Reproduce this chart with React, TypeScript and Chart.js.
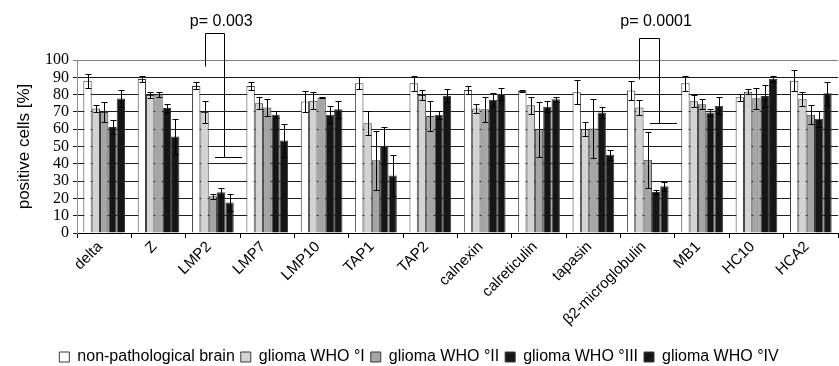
import { useEffect, useRef } from 'react';
import { Chart, registerables } from 'chart.js';

Chart.register(...registerables);

// Antigen-processing components along the x axis
const categories = [
  'delta', 'Z', 'LMP2', 'LMP7', 'LMP10', 'TAP1', 'TAP2', 'calnexin',
  'calreticulin', 'tapasin', 'β2-microglobulin', 'MB1', 'HC10', 'HCA2',
];

const seriesNames = [
  'non-pathological brain',
  'glioma WHO °I',
  'glioma WHO °II',
  'glioma WHO °III',
  'glioma WHO °IV',
];

// Mean percentage of positive cells and the error (±) per group
const nonPathological = [88, 89, 85, 85, 76, 86.5, 86.5, 82.7, 82.1, 81.3, 82.3, 86.5, 78.5, 88];
const nonPathologicalErr = [4, 2, 2, 2.5, 6, 3.5, 4.5, 2.3, 0.5, 7, 5.7, 4.5, 2, 6];

const gradeI = [72, 79.8, 70, 75, 76.5, 63.5, 79.8, 72, 73.8, 60, 72.5, 76.2, 81.7, 77.3];
const gradeIErr = [2, 1.5, 6.5, 3.5, 5, 7, 3, 2.6, 5, 4, 4.5, 3.6, 1.3, 4];

const gradeII = [70, 80, 21.2, 72.5, 78.3, 42, 67.7, 71.5, 60, 60.4, 42.3, 74.4, 77.9, 68.3];
const gradeIIErr = [6, 1.5, 1.5, 5, 0.5, 17, 8.6, 7.3, 16, 17, 16, 3, 6, 5.4];

const gradeIII = [61.3, 72.3, 23.5, 68.3, 68.3, 50.4, 68.3, 77, 73, 69.6, 23.7, 69.6, 79.2, 66];
const gradeIIIErr = [4, 2.5, 2.5, 2, 5, 10.6, 2.5, 4, 3.3, 3, 1.3, 2, 6.4, 4.8];

const gradeIV = [77.7, 55.8, 17.7, 53.5, 71.5, 33.3, 79.4, 80.4, 77.3, 45.2, 27, 73.5, 89, 80.8];
const gradeIVErr = [5, 10, 5, 9.5, 5, 12, 3.6, 3.3, 1.5, 3, 2.5, 5, 2, 6.7];

const seriesValues = [nonPathological, gradeI, gradeII, gradeIII, gradeIV];
const seriesErrors = [nonPathologicalErr, gradeIErr, gradeIIErr, gradeIIIErr, gradeIVErr];
const seriesFills = ['#ffffff', '#d3d3d3', '#a5a5a5', '#161616', '#161616'];

const yTickValues = [0, 10, 20, 30, 40, 50, 60, 70, 80, 90, 100];

// Significance brackets: grade I vs. higher grades (heights in % units)
const pLabels = ['p= 0.003', 'p= 0.0001'];
const pCategoryIndex = [2, 10];
const pBracketTop = [115.8, 112.9];
const pLeftLegEnd = [96.5, 88.8];
const pRightLegEnd = [44.1, 63.4];
const pTextLevel = [122.3, 122.3];

const SANS = "'Liberation Sans', Arial, sans-serif";
const SERIF = "'Liberation Serif', 'Times New Roman', serif";

const errorBarPlugin = {
  id: 'errorBars',
  afterDatasetsDraw(chart: any) {
    const { ctx } = chart;
    const y = chart.scales.y;
    ctx.save();
    ctx.strokeStyle = '#000';
    ctx.lineWidth = 1;
    chart.data.datasets.forEach((ds: any, di: number) => {
      const meta = chart.getDatasetMeta(di);
      meta.data.forEach((bar: any, i: number) => {
        const v = ds.data[i];
        const e = ds.errors[i];
        const x = Math.round(bar.x) + 0.5;
        const yHi = Math.round(y.getPixelForValue(v + e)) + 0.5;
        const yLo = Math.round(y.getPixelForValue(v - e)) + 0.5;
        ctx.beginPath();
        ctx.moveTo(x, yHi);
        ctx.lineTo(x, yLo);
        ctx.moveTo(x - 3, yHi);
        ctx.lineTo(x + 3, yHi);
        ctx.moveTo(x - 3, yLo);
        ctx.lineTo(x + 3, yLo);
        ctx.stroke();
      });
    });
    ctx.restore();
  },
};

const bracketPlugin = {
  id: 'pBrackets',
  afterDraw(chart: any) {
    const { ctx } = chart;
    const y = chart.scales.y;
    ctx.save();
    ctx.strokeStyle = '#000';
    ctx.lineWidth = 1;
    ctx.fillStyle = '#000';
    ctx.font = `16px ${SANS}`;
    ctx.textAlign = 'center';
    ctx.textBaseline = 'middle';
    pLabels.forEach((label, k) => {
      const idx = pCategoryIndex[k];
      const leftBar: any = chart.getDatasetMeta(1).data[idx];
      const refBar: any = chart.getDatasetMeta(3).data[idx];
      const w = refBar.width;
      const xl = Math.round(leftBar.x) + 0.5;
      const xr = Math.round(refBar.x + 0.3 * w) + 0.5;
      const yTop = Math.round(y.getPixelForValue(pBracketTop[k])) + 0.5;
      const yLeft = Math.round(y.getPixelForValue(pLeftLegEnd[k])) + 0.5;
      const yRight = Math.round(y.getPixelForValue(pRightLegEnd[k])) + 0.5;
      ctx.beginPath();
      ctx.moveTo(xl, yLeft);
      ctx.lineTo(xl, yTop);
      ctx.lineTo(xr, yTop);
      ctx.lineTo(xr, yRight);
      ctx.moveTo(Math.round(refBar.x - 0.7 * w), yRight);
      ctx.lineTo(Math.round(refBar.x + 2.5 * w), yRight);
      ctx.stroke();
      ctx.fillText(label, refBar.x, y.getPixelForValue(pTextLevel[k]));
    });
    ctx.restore();
  },
};

export default function App() {
  const canvasRef = useRef<HTMLCanvasElement | null>(null);

  useEffect(() => {
    document.body.style.margin = '0';
    const canvas = canvasRef.current;
    if (!canvas) return;

    Chart.defaults.color = '#000';
    Chart.defaults.font.family = SANS;

    const chart = new Chart(canvas, {
      type: 'bar',
      data: {
        labels: categories,
        datasets: seriesNames.map((name, i) => ({
          label: name,
          data: seriesValues[i],
          errors: seriesErrors[i],
          backgroundColor: seriesFills[i],
          borderColor: '#3a3a3a',
          borderWidth: 1,
          categoryPercentage: 0.767,
          barPercentage: 1,
        })) as any,
      },
      options: {
        responsive: false,
        animation: false,
        layout: { padding: { top: 60, right: 1, left: 0, bottom: -9 } },
        plugins: {
          tooltip: { enabled: false },
          legend: {
            position: 'bottom',
            labels: {
              boxWidth: 10,
              boxHeight: 10,
              padding: 6,
              color: '#000',
              font: { size: 16, family: SANS },
            },
          },
        },
        scales: {
          x: {
            offset: true,
            grid: {
              display: true,
              drawOnChartArea: false,
              drawTicks: true,
              tickLength: 5,
              color: '#000',
              offset: true,
            },
            border: { display: true, color: '#000', width: 1 },
            ticks: {
              autoSkip: false,
              maxRotation: 45,
              minRotation: 45,
              padding: 0,
              labelOffset: -4,
              color: '#000',
              font: { size: 15, family: SANS },
            },
            afterFit(scale: any) {
              scale.height = 110;
            },
          },
          y: {
            min: 0,
            max: 100,
            afterBuildTicks(scale: any) {
              scale.ticks = yTickValues.map((v) => ({ value: v }));
            },
            grid: {
              color: (ctx: any) => (ctx.tick && ctx.tick.value === 100 ? '#808080' : '#1e1e1e'),
              lineWidth: 1,
              tickLength: 4,
            },
            border: { display: true, color: '#8a8a8a', width: 1 },
            ticks: {
              autoSkip: false,
              padding: 4,
              color: '#000',
              font: { size: 16, family: SERIF },
            },
            title: {
              display: true,
              text: 'positive cells [%]',
              color: '#000',
              font: { size: 17, family: SANS },
              padding: { top: 14, bottom: 0 },
            },
            afterFit(scale: any) {
              scale.width = 77;
            },
          },
        },
      },
      plugins: [errorBarPlugin, bracketPlugin],
    });

    return () => chart.destroy();
  }, []);

  return (
    <div style={{ width: 839, height: 366, background: '#fff' }}>
      <canvas ref={canvasRef} width={839} height={366} />
    </div>
  );
}
